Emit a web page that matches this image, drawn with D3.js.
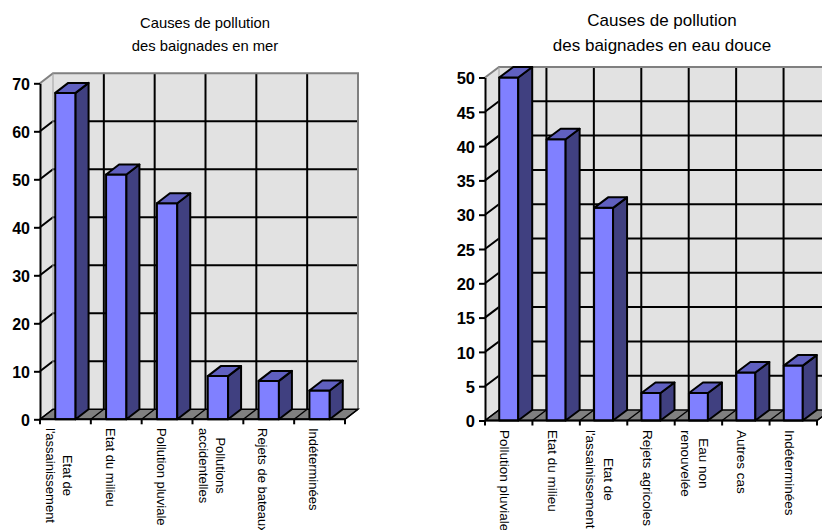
<!DOCTYPE html>
<meta charset="utf-8">
<script src="https://cdn.jsdelivr.net/npm/d3@7/dist/d3.min.js"></script>
<style>
  body { margin: 0; background: #fff; }
  text { font-family: Arial, "Liberation Sans", sans-serif; }
</style>
<svg width="822" height="530"></svg>
<script>
// data
var merTitle = ["Causes de pollution", "des baignades en mer"];
var merCats = ["Etat de\nl'assainissement", "Etat du milieu", "Pollution pluviale",
  "Pollutions\naccidentelles", "Rejets de bateaux", "Indéterminées"];
var merValues = [68, 51, 45, 9, 8, 6];
var merTicks = [0, 10, 20, 30, 40, 50, 60, 70];

var douceTitle = ["Causes de pollution", "des baignades en eau douce"];
var douceCats = ["Pollution pluviale", "Etat du milieu", "Etat de\nl'assainissement",
  "Rejets agricoles", "Eau non\nrenouvelée", "Autres cas", "Indéterminées"];
var douceValues = [50, 41, 31, 4, 4, 7, 8];
var douceTicks = [0, 5, 10, 15, 20, 25, 30, 35, 40, 45, 50];

var svg = d3.select("svg");

drawChart({
  title: merTitle, cats: merCats, values: merValues, ticks: merTicks,
  left: 40, right: 345, bottom: 419.3, top: 83.3, dx: 13, dy: -10,
  titleX: 205, titleY: [28, 51], titleSize: 14.8,
  labelShift: -6, labelTop: 428, labelSize: 13, lineGap: 17, tickSize: 16
});
drawChart({
  title: douceTitle, cats: douceCats, values: douceValues, ticks: douceTicks,
  left: 485, right: 817, bottom: 420.5, top: 77.5, dx: 14, dy: -10.5,
  titleX: 662, titleY: [26, 51], titleSize: 17,
  labelShift: -4, labelTop: 430, labelSize: 13.5, lineGap: 18, tickSize: 16.5
});

function poly(pts) {
  return "M" + pts.map(function(p) { return p[0] + "," + p[1]; }).join("L") + "Z";
}

function drawChart(c) {
  var g = svg.append("g");
  var dx = c.dx, dy = c.dy;

  var x = d3.scaleBand()
    .domain(c.cats)
    .range([c.left, c.right])
    .paddingInner(0.6)
    .paddingOuter(0.3);
  var y = d3.scaleLinear()
    .domain([0, d3.max(c.ticks)])
    .range([c.bottom, c.top]);
  var step = x.step();
  var edges = d3.range(c.cats.length + 1).map(function(i) { return c.left + i * step; });

  // title
  g.append("text")
    .attr("x", c.titleX)
    .attr("text-anchor", "middle")
    .attr("font-size", c.titleSize)
    .selectAll("tspan")
    .data(c.title)
    .enter()
    .append("tspan")
    .attr("x", c.titleX)
    .attr("y", function(d, i) { return c.titleY[i]; })
    .text(function(d) { return d; });

  // side wall and back wall
  g.append("path")
    .attr("d", poly([[c.left, c.bottom], [c.left, c.top], [c.left + dx, c.top + dy], [c.left + dx, c.bottom + dy]]))
    .attr("fill", "#e2e2e2");
  g.append("path")
    .attr("d", poly([[c.left + dx, c.bottom + dy], [c.left + dx, c.top + dy], [c.right + dx, c.top + dy], [c.right + dx, c.bottom + dy]]))
    .attr("fill", "#e2e2e2");

  // grid on walls
  var grid = g.append("g").attr("stroke", "#000").attr("stroke-width", 2);
  grid.selectAll(".hg")
    .data(c.ticks.slice(1, -1))
    .enter()
    .append("path")
    .attr("fill", "none")
    .attr("d", function(d) {
      return "M" + c.left + "," + y(d) + "L" + (c.left + dx) + "," + (y(d) + dy) + "L" + (c.right + dx) + "," + (y(d) + dy);
    });
  grid.selectAll(".vg")
    .data(edges.slice(1, -1))
    .enter()
    .append("line")
    .attr("x1", function(d) { return d + dx; })
    .attr("x2", function(d) { return d + dx; })
    .attr("y1", c.top + dy)
    .attr("y2", c.bottom + dy);

  // wall borders
  g.append("path")
    .attr("d", "M" + c.left + "," + c.top + "L" + (c.left + dx) + "," + (c.top + dy) + "L" + (c.right + dx) + "," + (c.top + dy) + "L" + (c.right + dx) + "," + (c.bottom + dy))
    .attr("fill", "none")
    .attr("stroke", "#808080")
    .attr("stroke-width", 2);
  g.append("line")
    .attr("x1", c.left + dx).attr("x2", c.left + dx)
    .attr("y1", c.top + dy).attr("y2", c.bottom + dy)
    .attr("stroke", "#a0a0a0").attr("stroke-width", 1);

  // floor
  g.append("path")
    .attr("d", poly([[c.left, c.bottom], [c.right, c.bottom], [c.right + dx, c.bottom + dy], [c.left + dx, c.bottom + dy]]))
    .attr("fill", "#808080")
    .attr("stroke", "#000")
    .attr("stroke-width", 1.4);
  g.append("g")
    .attr("stroke", "#000")
    .attr("stroke-width", 1.4)
    .selectAll("line")
    .data(edges)
    .enter()
    .append("line")
    .attr("x1", function(d) { return d; })
    .attr("y1", c.bottom)
    .attr("x2", function(d) { return d + dx; })
    .attr("y2", c.bottom + dy);

  // bars
  var bars = g.append("g")
    .attr("stroke", "#000")
    .attr("stroke-width", 2)
    .attr("stroke-linejoin", "round")
    .selectAll("g")
    .data(c.cats.map(function(d, i) { return { cat: d, value: c.values[i] }; }))
    .enter()
    .append("g");
  bars.append("path")
    .attr("fill", "#8080ff")
    .attr("d", function(d) {
      var x0 = x(d.cat), x1 = x0 + x.bandwidth(), yv = y(d.value);
      return poly([[x0, c.bottom], [x0, yv], [x1, yv], [x1, c.bottom]]);
    });
  bars.append("path")
    .attr("fill", "#404080")
    .attr("d", function(d) {
      var x1 = x(d.cat) + x.bandwidth(), yv = y(d.value);
      return poly([[x1, c.bottom], [x1, yv], [x1 + dx, yv + dy], [x1 + dx, c.bottom + dy]]);
    });
  bars.append("path")
    .attr("fill", "#6060c0")
    .attr("d", function(d) {
      var x0 = x(d.cat), x1 = x0 + x.bandwidth(), yv = y(d.value);
      return poly([[x0, yv], [x0 + dx, yv + dy], [x1 + dx, yv + dy], [x1, yv]]);
    });

  // y axis
  var yAxis = g.append("g")
    .attr("transform", "translate(" + c.left + ",0)")
    .call(d3.axisLeft(y).tickValues(c.ticks).tickSize(6).tickPadding(4).tickSizeOuter(0));
  yAxis.select(".domain").attr("stroke", "#000").attr("stroke-width", 2);
  yAxis.selectAll(".tick line").attr("stroke", "#000").attr("stroke-width", 2);
  yAxis.selectAll(".tick text")
    .attr("font-family", "Arial, 'Liberation Sans', sans-serif")
    .attr("font-size", c.tickSize)
    .attr("font-weight", "bold")
    .attr("fill", "#000")
    .attr("dy", "0.38em");

  // x axis line and boundary ticks
  var xa = g.append("g").attr("stroke", "#000").attr("stroke-width", 2);
  xa.append("line")
    .attr("x1", c.left).attr("x2", c.right)
    .attr("y1", c.bottom).attr("y2", c.bottom);
  xa.selectAll(".xt")
    .data(edges)
    .enter()
    .append("line")
    .attr("x1", function(d) { return d; })
    .attr("x2", function(d) { return d; })
    .attr("y1", c.bottom)
    .attr("y2", c.bottom + 5);

  // category labels, rotated, top aligned, lines centered
  c.cats.forEach(function(cat) {
    var lines = cat.split("\n");
    var cx = x(cat) + x.bandwidth() / 2 + c.labelShift;
    var lg = g.append("g")
      .attr("transform", "translate(" + cx + "," + c.labelTop + ") rotate(90)");
    var texts = lines.map(function(l, i) {
      return lg.append("text")
        .attr("font-size", c.labelSize)
        .attr("dominant-baseline", "central")
        .attr("y", (i - (lines.length - 1) / 2) * c.lineGap)
        .text(l);
    });
    var lens = texts.map(function(t) { return t.node().getComputedTextLength(); });
    var maxLen = d3.max(lens);
    texts.forEach(function(t, i) { t.attr("x", (maxLen - lens[i]) / 2); });
  });
}
</script>
